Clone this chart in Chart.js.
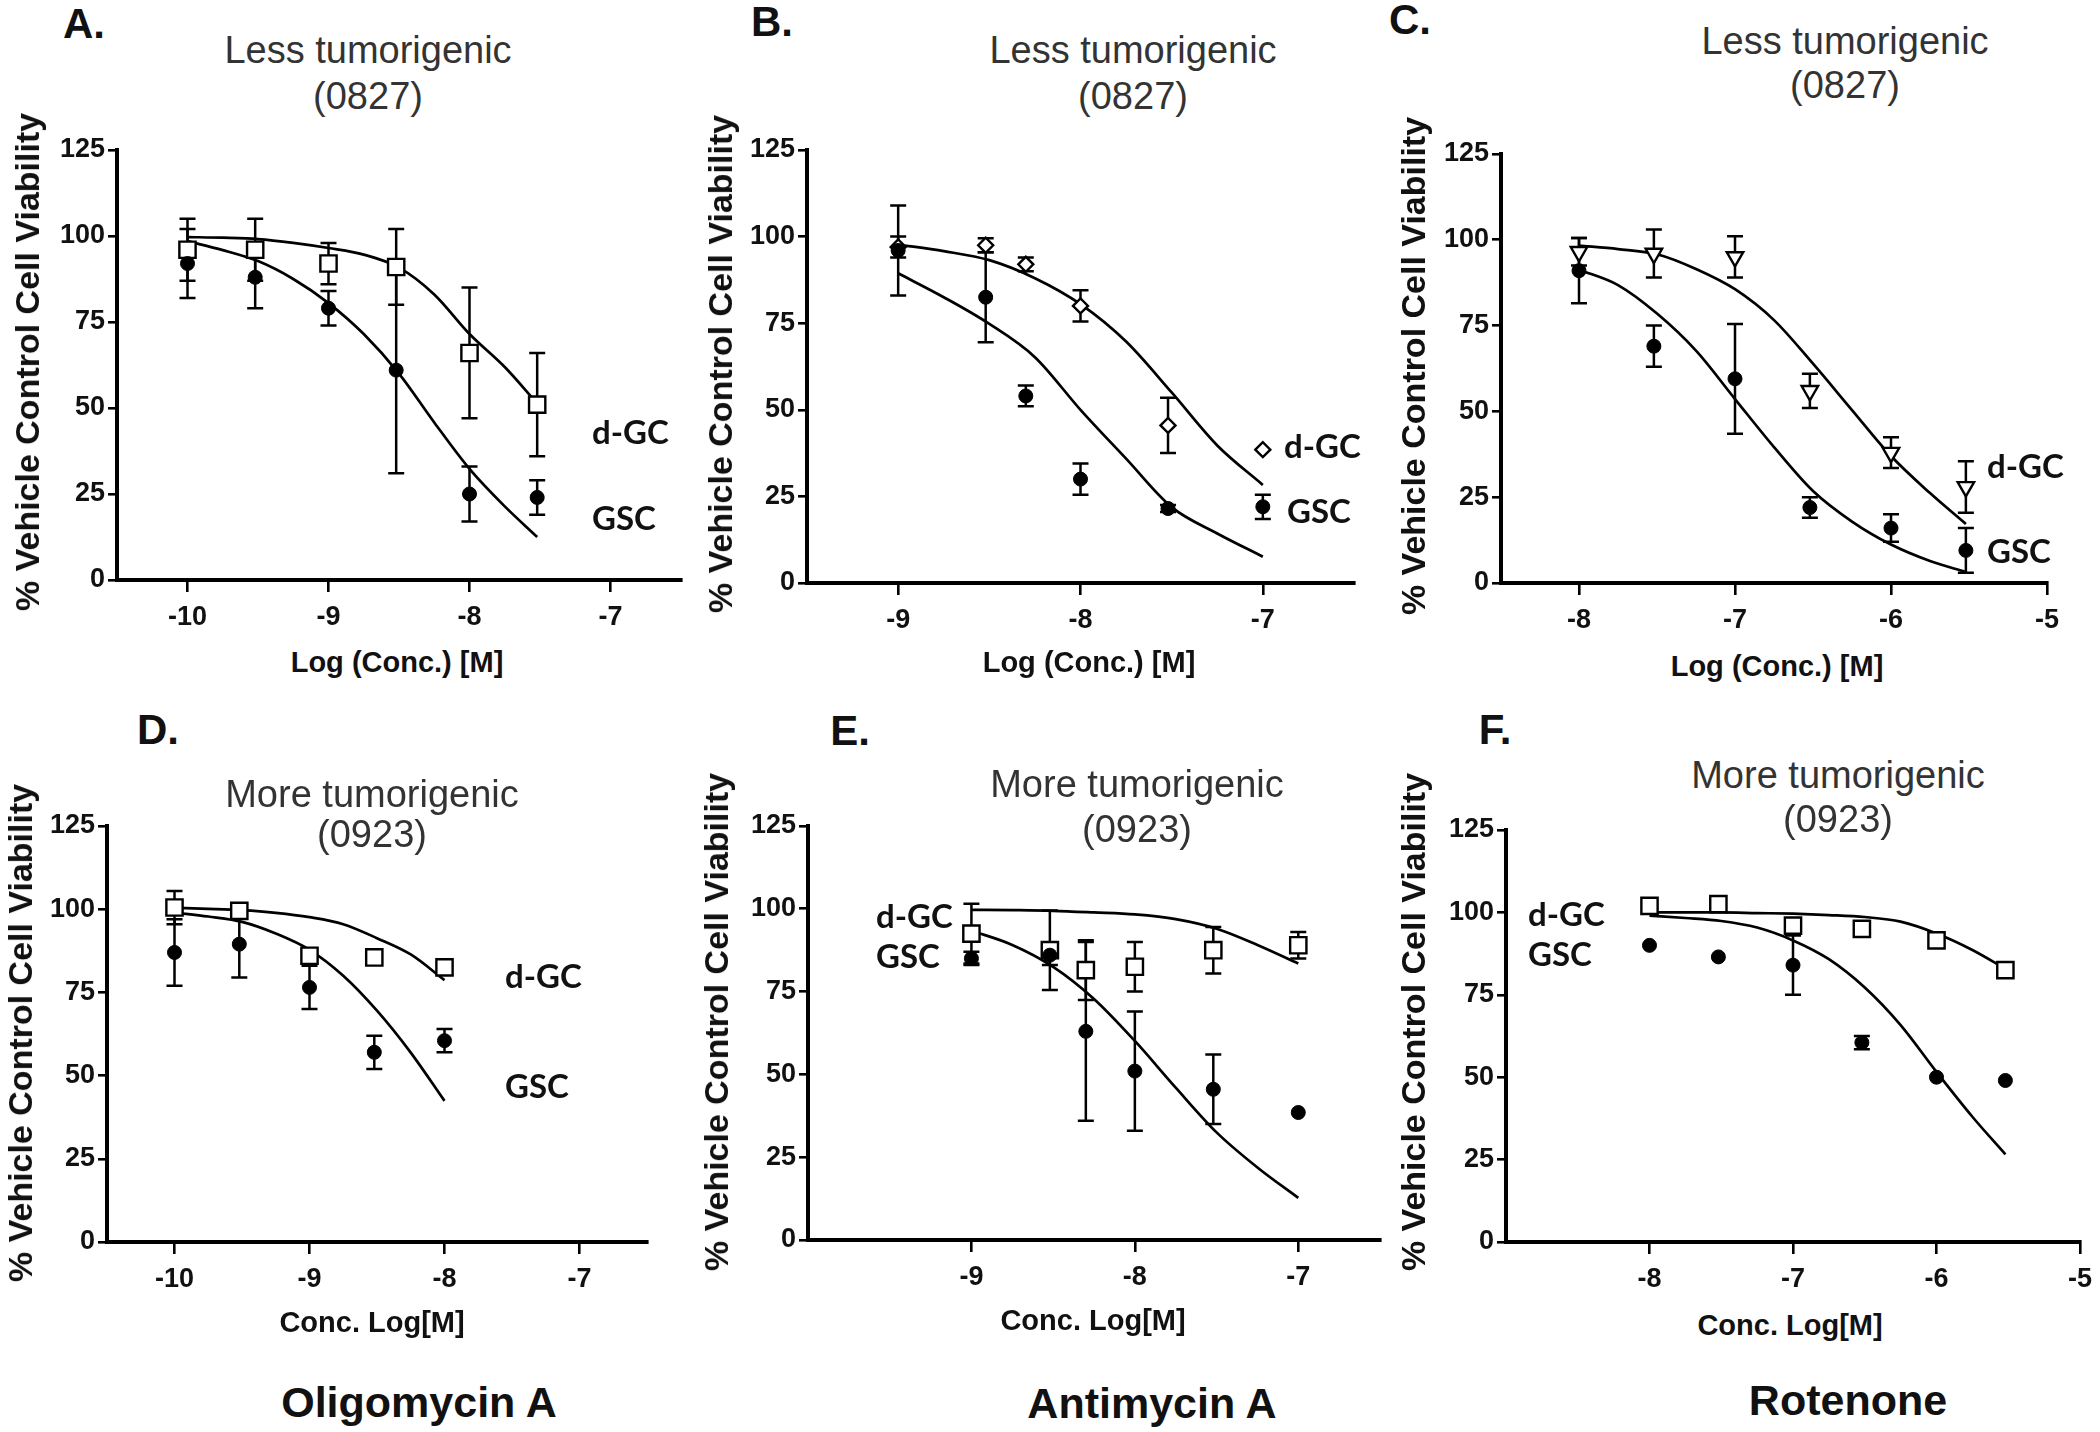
<!DOCTYPE html>
<html>
<head>
<meta charset="utf-8">
<script src="https://cdn.jsdelivr.net/npm/chart.js@4.4.1/dist/chart.umd.min.js"></script>
<style>
  html, body { margin: 0; padding: 0; background: #fff; }
  body { width: 2100px; height: 1432px; position: relative; overflow: hidden; }
  .pane { position: absolute; }
  .t { position: absolute; white-space: nowrap; line-height: 1; }
</style>
</head>
<body>
<script>
// ---------------- DATA ----------------
// Panel A: Oligomycin A, less tumorigenic (0827)
const xA = [-10, -9.52, -9, -8.52, -8, -7.52];
const dgcA = [96, 96, 92, 91, 66, 51];
const dgcErrA = [9, 9, 6, 11, 19, 15];
const gscA = [92, 88, 79, 61, 25, 24];
const gscErrA = [10, 9, 5, 30, 8, 5];
const fitXA = [-10, -9.75, -9.5, -9.25, -9, -8.75, -8.5, -8.25, -8, -7.75, -7.52];
const dgcFitA = [99.7, 99.5, 99.1, 98, 96.5, 94.6, 90.8, 83, 71.5, 61.9, 51.3];
const gscFitA = [98.5, 95.9, 92.7, 87.5, 80.5, 71.5, 60, 45.8, 32.3, 21.4, 12.5];
const xTicksA = [-10, -9, -8, -7];

// Panel B: Antimycin A, less tumorigenic (0827)
const xB = [-9, -8.52, -8.3, -8, -7.52, -7];
const dgcB = [97, 97.5, 92, 80, 45.5, 38.5];
const dgcErrB = [3, 2, 2, 4.5, 8, 0];
const gscB = [96, 82.5, 54, 30, 21.5, 22];
const gscErrB = [13, 13, 3, 4.5, 1, 3.5];
const fitXB = [-9, -8.75, -8.5, -8.25, -8, -7.75, -7.5, -7.25, -7];
const dgcFitB = [97.7, 95.8, 93.2, 88, 80.5, 69.7, 55, 39.7, 28.3];
const gscFitB = [89.4, 82.5, 74.8, 65.2, 50, 35.9, 21.9, 14.3, 7.6];
const xTicksB = [-9, -8, -7];

// Panel C: Rotenone, less tumorigenic (0827)
const xC = [-8, -7.52, -7, -6.52, -6, -5.52];
const dgcC = [96.5, 96, 95, 56, 38, 28];
const dgcErrC = [4, 7, 6, 5, 4.5, 7.5];
const gscC = [91, 69, 59.5, 22, 16, 9.5];
const gscErrC = [9.5, 6, 16, 3, 4, 6.5];
const fitXC = [-8, -7.75, -7.5, -7.25, -7, -6.75, -6.5, -6.25, -6, -5.75, -5.52];
const dgcFitC = [98.3, 97.3, 95.8, 91.5, 85.6, 76.6, 63.9, 50.4, 37, 26.2, 17.2];
const gscFitC = [91.3, 86.8, 78.5, 67.7, 53.6, 39.6, 26.8, 17.9, 11.2, 6.4, 3.2];
const xTicksC = [-8, -7, -6, -5];

// Panel D: Oligomycin A, more tumorigenic (0923)
const xD = [-10, -9.52, -9, -8.52, -8];
const dgcD = [100.5, 99.5, 86, 85.5, 82.5];
const dgcErrD = [5, 1.5, 2, 0, 0];
const gscD = [87, 89.5, 76.5, 57, 60.5];
const gscErrD = [10, 10, 6.5, 5, 3.5];
const fitXD = [-10, -9.75, -9.5, -9.25, -9, -8.75, -8.5, -8.25, -8];
const dgcFitD = [100.4, 100.1, 99.7, 98.9, 97.6, 95.5, 91.3, 86.4, 78.7];
const gscFitD = [99, 97.8, 96.2, 92.7, 87.8, 80, 69.5, 56.9, 42.4];
const xTicksD = [-10, -9, -8, -7];

// Panel E: Antimycin A, more tumorigenic (0923)
const xE = [-9, -8.52, -8.3, -8, -7.52, -7];
const dgcE = [92.5, 87.5, 81.5, 82.5, 87.5, 89];
const dgcErrE = [9, 12, 9, 7.5, 7, 4];
const gscE = [85, 86, 63, 51, 45.5, 38.5];
const gscErrE = [2, 3, 27, 18, 10.5, 0];
const fitXE = [-9, -8.75, -8.5, -8.25, -8, -7.75, -7.5, -7.25, -7];
const dgcFitE = [99.7, 99.6, 99.4, 98.9, 98.3, 96.9, 94, 89.1, 83.5];
const gscFitE = [93.4, 89.1, 82.5, 72.8, 60.1, 46, 32.5, 21.9, 12.7];
const xTicksE = [-9, -8, -7];

// Panel F: Rotenone, more tumorigenic (0923)
const xF = [-8, -7.52, -7, -6.52, -6, -5.52];
const dgcF = [102, 102.5, 96, 95, 91.5, 82.5];
const dgcErrF = [0, 0, 0, 0, 0, 0];
const gscF = [90, 86.5, 84, 60.5, 50, 49];
const gscErrF = [0, 0, 9, 2, 0, 0];
const fitXF = [-8, -7.75, -7.5, -7.25, -7, -6.75, -6.5, -6.25, -6, -5.75, -5.52];
const dgcFitF = [100, 100, 100, 99.8, 99.6, 99.2, 98.6, 97.2, 93.6, 88.6, 82.9];
const gscFitF = [99, 98.3, 97.4, 95.4, 91.5, 85.8, 77.2, 65.8, 51.6, 38, 26.6];
const xTicksF = [-8, -7, -6, -5];

const yTicks = [0, 25, 50, 75, 100, 125];

// ---------------- DRAWING ----------------
const FONT = "'Liberation Sans', Arial, sans-serif";

const errorBars = {
  id: 'errorBars',
  beforeDatasetsDraw(chart) {
    const ctx = chart.ctx, xs = chart.scales.x, ys = chart.scales.y;
    chart.data.datasets.forEach(ds => {
      if (!ds.errors) return;
      ctx.save();
      ctx.strokeStyle = '#000';
      ctx.lineWidth = 2.5;
      const cap = 8;
      ds.data.forEach((p, j) => {
        const e = ds.errors[j];
        if (!e) return;
        const px = xs.getPixelForValue(p.x);
        const top = ys.getPixelForValue(p.y + e);
        const bot = ys.getPixelForValue(p.y - e);
        ctx.beginPath();
        ctx.moveTo(px, top); ctx.lineTo(px, bot);
        ctx.moveTo(px - cap, top); ctx.lineTo(px + cap, top);
        ctx.moveTo(px - cap, bot); ctx.lineTo(px + cap, bot);
        ctx.stroke();
      });
      ctx.restore();
    });
  }
};

const pts = (xs, ys) => xs.map((x, i) => ({ x: x, y: ys[i] }));

function panel(geo, d) {
  const yw = 84, pt = 22, pr = 32, xh = 64;
  const W = yw + (geo.R - geo.L) + pr;
  const H = pt + (geo.B - geo.T) + xh;
  const div = document.createElement('div');
  div.className = 'pane';
  div.style.left = (geo.L - yw) + 'px';
  div.style.top = (geo.T - pt) + 'px';
  div.style.width = W + 'px';
  div.style.height = H + 'px';
  const cv = document.createElement('canvas');
  cv.width = W; cv.height = H;
  cv.style.width = W + 'px'; cv.style.height = H + 'px';
  div.appendChild(cv);
  document.body.appendChild(div);

  const tickFont = { family: FONT, size: 27, weight: 'bold' };
  new Chart(cv, {
    type: 'line',
    data: {
      datasets: [
        { label: 'd-GC', data: pts(d.x, d.dgc), errors: d.dgcErr, showLine: false,
          pointStyle: d.shape, pointRadius: d.radius, pointRotation: d.rot || 0,
          pointBackgroundColor: '#fff', pointBorderColor: '#000', pointBorderWidth: 2.4,
          order: 1, clip: false },
        { label: 'GSC', data: pts(d.x, d.gsc), errors: d.gscErr, showLine: false,
          pointStyle: 'circle', pointRadius: 7,
          pointBackgroundColor: '#000', pointBorderColor: '#000', pointBorderWidth: 1,
          order: 0, clip: false },
        { label: 'd-GC fit', data: pts(d.fx, d.dgcFit), borderColor: '#000', borderWidth: 2.7,
          pointRadius: 0, cubicInterpolationMode: 'monotone', fill: false, order: 2, clip: false },
        { label: 'GSC fit', data: pts(d.fx, d.gscFit), borderColor: '#000', borderWidth: 2.7,
          pointRadius: 0, cubicInterpolationMode: 'monotone', fill: false, order: 2, clip: false }
      ]
    },
    options: {
      responsive: false,
      animation: false,
      events: [],
      layout: { padding: { top: pt, right: pr, left: 0, bottom: 0 } },
      plugins: { legend: { display: false }, tooltip: { enabled: false } },
      scales: {
        x: {
          type: 'linear', min: d.xmin, max: d.xmax,
          afterFit: s => { s.height = xh; },
          afterBuildTicks: s => { s.ticks = d.xt.map(v => ({ value: v })); },
          grid: { display: true, drawOnChartArea: false, drawTicks: true, tickLength: 12, color: '#000', lineWidth: 2.6 },
          border: { display: true, color: '#000', width: 4 },
          ticks: { color: '#111', font: tickFont, padding: 9, autoSkip: false, maxRotation: 0, callback: v => String(v) }
        },
        y: {
          type: 'linear', min: 0, max: 125,
          afterFit: s => { s.width = yw; },
          afterBuildTicks: s => { s.ticks = yTicks.map(v => ({ value: v })); },
          grid: { display: true, drawOnChartArea: false, drawTicks: true, tickLength: 9, color: '#000', lineWidth: 2.6 },
          border: { display: true, color: '#000', width: 4 },
          ticks: { color: '#111', font: tickFont, padding: 3, callback: v => String(v) }
        }
      }
    },
    plugins: [errorBars]
  });
}

panel({ L: 117, R: 681, T: 150, B: 580 },
  { x: xA, dgc: dgcA, dgcErr: dgcErrA, gsc: gscA, gscErr: gscErrA, fx: fitXA, dgcFit: dgcFitA, gscFit: gscFitA,
    xmin: -10.5, xmax: -6.5, xt: xTicksA, shape: 'rect', radius: 11.5 });
panel({ L: 807, R: 1354, T: 150, B: 583 },
  { x: xB, dgc: dgcB, dgcErr: dgcErrB, gsc: gscB, gscErr: gscErrB, fx: fitXB, dgcFit: dgcFitB, gscFit: gscFitB,
    xmin: -9.5, xmax: -6.5, xt: xTicksB, shape: 'rectRot', radius: 7.5 });
panel({ L: 1501, R: 2047, T: 154, B: 583 },
  { x: xC, dgc: dgcC, dgcErr: dgcErrC, gsc: gscC, gscErr: gscErrC, fx: fitXC, dgcFit: dgcFitC, gscFit: gscFitC,
    xmin: -8.5, xmax: -5, xt: xTicksC, shape: 'triangle', radius: 9.5, rot: 180 });
panel({ L: 107, R: 647, T: 826, B: 1242 },
  { x: xD, dgc: dgcD, dgcErr: dgcErrD, gsc: gscD, gscErr: gscErrD, fx: fitXD, dgcFit: dgcFitD, gscFit: gscFitD,
    xmin: -10.5, xmax: -6.5, xt: xTicksD, shape: 'rect', radius: 11.5 });
panel({ L: 808, R: 1380, T: 826, B: 1240 },
  { x: xE, dgc: dgcE, dgcErr: dgcErrE, gsc: gscE, gscErr: gscErrE, fx: fitXE, dgcFit: dgcFitE, gscFit: gscFitE,
    xmin: -10, xmax: -6.5, xt: xTicksE, shape: 'rect', radius: 11.5 });
panel({ L: 1506, R: 2080, T: 830, B: 1242 },
  { x: xF, dgc: dgcF, dgcErr: dgcErrF, gsc: gscF, gscErr: gscErrF, fx: fitXF, dgcFit: dgcFitF, gscFit: gscFitF,
    xmin: -9, xmax: -5, xt: xTicksF, shape: 'rect', radius: 11.5 });

// ---------------- TEXT ----------------
function txt(s, x, y, size, weight, opts) {
  opts = opts || {};
  const el = document.createElement('div');
  el.className = 't';
  el.textContent = s;
  el.style.fontFamily = opts.family || FONT;
  el.style.fontSize = size + 'px';
  el.style.fontWeight = weight;
  el.style.color = opts.color || '#111';
  el.style.left = x + 'px';
  el.style.top = y + 'px';
  if (opts.rot) {
    el.style.transform = 'translate(-50%, -50%) rotate(-90deg)';
  } else {
    el.style.transform = 'translate(' + (opts.left ? '0' : '-50%') + ', -50%)';
  }
  document.body.appendChild(el);
}
const LBL = { family: "Lato, 'Open Sans', sans-serif", left: true };
const TTL = { color: '#333' };

// Panel letters
txt('A.', 84, 24, 42, 'bold');
txt('B.', 772, 22, 42, 'bold');
txt('C.', 1410, 20, 42, 'bold');
txt('D.', 158, 730, 42, 'bold');
txt('E.', 850, 731, 42, 'bold');
txt('F.', 1495, 730, 42, 'bold');

// Titles
txt('Less tumorigenic', 368, 50, 38, 'normal', TTL);
txt('(0827)', 368, 96, 38, 'normal', TTL);
txt('Less tumorigenic', 1133, 50, 38, 'normal', TTL);
txt('(0827)', 1133, 96, 38, 'normal', TTL);
txt('Less tumorigenic', 1845, 41, 38, 'normal', TTL);
txt('(0827)', 1845, 85, 38, 'normal', TTL);
txt('More tumorigenic', 372, 794, 38, 'normal', TTL);
txt('(0923)', 372, 834, 38, 'normal', TTL);
txt('More tumorigenic', 1137, 784, 38, 'normal', TTL);
txt('(0923)', 1137, 829, 38, 'normal', TTL);
txt('More tumorigenic', 1838, 775, 38, 'normal', TTL);
txt('(0923)', 1838, 819, 38, 'normal', TTL);

// Axis titles
const yTitle = '% Vehicle Control Cell Viability';
txt(yTitle, 27, 362, 34, 'bold', { rot: true });
txt(yTitle, 720, 364, 34, 'bold', { rot: true });
txt(yTitle, 1413, 366, 34, 'bold', { rot: true });
txt(yTitle, 20, 1033, 34, 'bold', { rot: true });
txt(yTitle, 716, 1022, 34, 'bold', { rot: true });
txt(yTitle, 1413, 1022, 34, 'bold', { rot: true });

txt('Log (Conc.) [M]', 397, 662, 29, 'bold');
txt('Log (Conc.) [M]', 1089, 662, 29, 'bold');
txt('Log (Conc.) [M]', 1777, 666, 29, 'bold');
txt('Conc. Log[M]', 372, 1322, 29, 'bold');
txt('Conc. Log[M]', 1093, 1320, 29, 'bold');
txt('Conc. Log[M]', 1790, 1325, 29, 'bold');

// Series labels
txt('d-GC', 592, 431, 33, 'bold', LBL);
txt('GSC', 592, 517, 33, 'bold', LBL);
txt('d-GC', 1284, 445, 33, 'bold', LBL);
txt('GSC', 1287, 510, 33, 'bold', LBL);
txt('d-GC', 1987, 465, 33, 'bold', LBL);
txt('GSC', 1987, 550, 33, 'bold', LBL);
txt('d-GC', 505, 975, 33, 'bold', LBL);
txt('GSC', 505, 1085, 33, 'bold', LBL);
txt('d-GC', 876, 915, 33, 'bold', LBL);
txt('GSC', 876, 955, 33, 'bold', LBL);
txt('d-GC', 1528, 913, 33, 'bold', LBL);
txt('GSC', 1528, 953, 33, 'bold', LBL);

// Compound names
txt('Oligomycin A', 419, 1402, 43, 'bold');
txt('Antimycin A', 1152, 1403, 43, 'bold');
txt('Rotenone', 1848, 1400, 43, 'bold');
</script>
</body>
</html>
